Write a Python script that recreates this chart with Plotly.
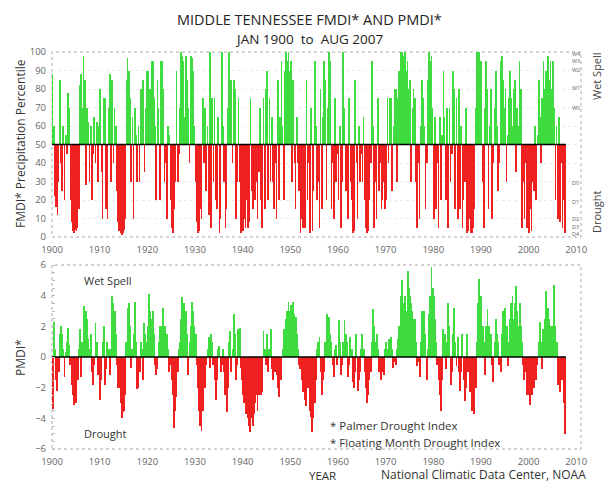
import plotly.graph_objects as go

# ---------------- DATA (quarterly estimates, Q1..Q4 per year) ----------------
# FMDI* precipitation percentile (0-100, 50 = normal)
fmdi_1900s = [88, 60, 22, 16,  12, 30, 85, 40,  25, 60, 20, 55,  45, 78, 70, 20,  8, 3, 2, 4,
              3, 5, 15, 82,  88, 70, 98, 85,  28, 70, 62, 30,  60, 20, 45, 65,  40, 62, 30, 60]
fmdi_1910s = [80, 35, 10, 75,  75, 15, 10, 70,  88, 30, 85, 40,  70, 60, 25, 8,  3, 2, 1, 2,
              4, 10, 85, 97,  90, 75, 30, 65,  10, 70, 55, 30,  60, 30, 80, 75,  85, 35, 70, 90]
fmdi_1920s = [90, 65, 80, 95,  95, 75, 60, 20,  85, 70, 20, 95,  95, 80, 30, 40,  10, 60, 55, 20,
              5, 2, 15, 30,  90, 30, 45, 70,  100, 98, 95, 65,  98, 85, 70, 40,  98, 97, 90, 60]
fmdi_1930s = [30, 8, 2, 3,  15, 10, 75, 40,  70, 25, 60, 12,  100, 5, 75, 30,  75, 20, 15, 65,
              2, 10, 100, 60,  30, 5, 15, 70,  100, 80, 85, 40,  85, 80, 10, 30,  75, 30, 2, 5]
fmdi_1940s = [3, 10, 5, 20,  5, 8, 75, 25,  15, 25, 20, 30,  10, 35, 70, 20,  5, 75, 15, 80,
              90, 20, 75, 30,  65, 30, 15, 40,  10, 85, 20, 65,  95, 60, 20, 90,  100, 95, 100, 90]
fmdi_1950s = [95, 30, 85, 40,  15, 65, 40, 25,  2, 10, 5, 35,  5, 85, 20, 40,  2, 70, 3, 25,
              95, 60, 20, 30,  5, 80, 15, 65,  95, 85, 20, 70,  100, 95, 15, 40,  10, 75, 30, 45]
fmdi_1960s = [20, 60, 5, 30,  100, 70, 25, 40,  10, 75, 30, 20,  2, 3, 85, 40,  10, 60, 30, 45,
              30, 65, 20, 5,  2, 3, 20, 40,  95, 60, 5, 30,  10, 75, 25, 40,  15, 20, 30, 15]
fmdi_1970s = [20, 75, 40, 75,  75, 25, 60, 80,  80, 30, 75, 90,  100, 100, 95, 98,  100, 90, 95, 80,
              85, 30, 70, 80,  75, 30, 5, 40,  10, 60, 85, 75,  60, 15, 40, 85,  100, 95, 98, 70]
fmdi_1980s = [10, 65, 15, 40,  5, 65, 20, 55,  90, 65, 20, 70,  5, 70, 30, 45,  90, 80, 15, 75,
              10, 80, 15, 60,  5, 20, 30, 70,  2, 3, 10, 2,  2, 5, 15, 70,  100, 98, 100, 95]
fmdi_1990s = [95, 30, 5, 70,  95, 80, 15, 60,  80, 10, 40, 70,  90, 60, 25, 40,  95, 98, 85, 70,
              80, 30, 55, 75,  90, 75, 60, 80,  85, 35, 70, 60,  95, 80, 5, 30,  10, 40, 5, 15]
fmdi_2000s = [2, 15, 3, 30,  25, 60, 20, 55,  85, 65, 40, 75,  95, 80, 90, 75,  98, 85, 95, 80,
              95, 70, 20, 60,  10, 65, 8, 40,  5, 20, 2]

# PMDI* (Palmer drought index)
pmdi_1900s = [-3.4, 2.3, 0.5, -1.5,  -2.2, -1.0, 1.5, 2.0,  1.5, 0.5, -1.3, 0.3,  1.0, 1.9, 0.8, -0.5,
              -1.8, -2.5, -3.1, -2.5,  -3.0, -1.5, 0.5, 1.8,  -1.3, 1.0, 3.3, 2.8,  3.0, 2.5, 1.2, 0.5,
              1.5, -1.0, -1.8, -0.5,  2.2, 1.0, -1.2, -0.5]
pmdi_1910s = [-2.8, -1.5, 1.0, 2.0,  -1.8, -0.8, 1.0, 0.5,  -1.2, 0.5, 4.0, 3.5,  3.0, 1.5, -0.5, -2.0,
              -2.0, -3.0, -4.0, -3.6,  -3.5, -2.5, 1.0, 3.2,  3.5, 2.0, -0.7, 0.5,  1.5, 3.6, 1.0, -2.1,
              -2.0, -1.0, 1.0, 0.5,  -1.5, 2.2, 1.5, 1.0]
pmdi_1920s = [2.0, 4.1, 3.0, 2.5,  3.0, 1.5, -0.5, -1.2,  -0.8, 1.0, 2.0, 1.0,  2.0, 3.2, 2.0, 1.0,
              1.5, 0.5, -1.0, -0.5,  -1.5, -2.5, -4.6, -3.5,  -2.6, -1.0, 0.5, 1.0,  2.5, 3.9, 3.5, 2.5,
              3.0, 1.5, -1.2, 1.0,  2.0, 3.6, 3.0, 2.0]
pmdi_1930s = [1.5, -0.5, -2.0, -3.5,  -4.5, -4.8, -3.5, -2.0,  -2.0, -0.5, 0.5, 1.3,  -0.7, 1.5, 1.0, -0.5,
              -1.5, -2.8, -1.5, 0.5,  0.7, -1.0, -0.5, 0.5,  -1.0, -2.5, -3.6, -2.0,  1.0, 1.7, -1.0, 0.5,
              2.8, 1.5, -1.5, -0.5,  1.8, 1.9, -0.7, -1.5]
pmdi_1940s = [-2.5, -3.0, -3.7, -3.5,  -4.0, -4.5, -4.9, -4.0,  -4.5, -3.7, -3.0, -2.5,  -3.5, -2.5, -2.0, -2.5,
              -2.3, 1.7, 0.5, -0.5,  1.5, -1.0, 0.5, 1.8,  -0.8, -1.5, -0.5, -1.0,  -1.2, -2.0, -2.6, -1.5,
              -1.5, 0.5, 1.8, 1.5,  2.5, 3.0, 3.6, 3.0]
pmdi_1950s = [3.4, 2.5, 3.6, 2.8,  2.6, 1.5, 0.5, -0.5,  -0.8, -1.5, -2.3, -2.0,  -2.8, -3.2, -2.0, -1.5,
              -3.5, -3.9, -4.9, -4.0,  -3.0, -1.5, 0.5, 1.0,  1.3, -1.0, -2.5, -1.5,  -1.0, 1.0, 2.8, 2.0,
              2.6, 1.5, 1.0, -0.5,  -1.3, 0.5, 0.8, -0.5]
pmdi_1960s = [2.4, 1.0, -1.2, -0.5,  1.0, 2.4, 1.5, 1.0,  -1.3, -0.5, 1.3, 0.5,  -1.6, -2.0, -1.0, 1.5,
              -2.2, -1.5, -1.0, 0.5,  1.5, 0.5, -1.0, -2.0,  -3.0, -2.5, -1.5, -1.0,  1.0, 3.1, 2.0, 1.0,
              1.5, 0.5, -1.0, -0.5,  -1.5, -1.0, -1.2, 0.5]
pmdi_1970s = [1.0, 0.5, 1.2, 0.8,  1.3, 0.5, -0.7, -0.3,  -0.5, 0.5, 1.2, 2.0,  4.0, 5.0, 3.5, 3.0,
              4.0, 3.0, 5.6, 4.5,  4.0, 3.5, 3.0, 2.5,  2.5, 1.0, -0.6, -0.3,  -1.3, 1.0, 3.0, 2.5,
              3.0, 1.5, -1.5, 0.5,  2.8, 4.0, 5.9, 4.5]
pmdi_1980s = [4.0, 2.5, 1.0, -0.5,  -1.5, -2.5, -3.5, -1.5,  1.8, 1.5, -0.8, 1.0,  3.5, 2.0, -1.8, -1.0,
              1.5, 3.2, 1.0, -0.6,  1.3, -1.0, -2.2, -1.0,  1.5, -1.5, -2.9, -2.0,  1.5, -1.0, -2.3, -1.5,
              -3.5, -3.0, -3.7, -2.0,  1.0, 3.5, 5.1, 4.0]
pmdi_1990s = [4.0, 2.0, 1.0, -1.2,  2.0, 3.1, 2.0, 1.0,  1.5, -0.5, -1.6, 1.0,  2.5, 1.5, 1.0, -0.5,
              -1.0, 1.5, 3.0, 2.5,  3.2, 2.0, -0.6, 1.0,  2.5, 3.5, 4.0, 2.5,  3.5, 4.6, 3.0, 2.0,
              3.5, 2.0, 1.0, -0.5,  -1.5, -1.0, -2.5, -2.0]
pmdi_2000s = [-2.5, -3.1, -2.5, -1.5,  -2.0, -1.0, -1.5, -0.5,  1.0, 2.3, 1.0, -0.8,  1.8, 2.5, 4.3, 3.0,
              3.2, 2.5, 2.0, 1.5,  2.0, 4.7, 2.0, 1.0,  -1.8, -1.0, -2.3, -1.5,  -1.5, -3.0, -5.0]

x_ticks = [1900, 1910, 1920, 1930, 1940, 1950, 1960, 1970, 1980, 1990, 2000, 2010]
fmdi_ticks = [0, 10, 20, 30, 40, 50, 60, 70, 80, 90, 100]
pmdi_ticks = [-6, -4, -2, 0, 2, 4, 6]
class_labels = ["W4", "W3", "W2", "W1", "W0", "D0", "D1", "D2", "D3", "D4"]
class_levels = [99, 95, 90.5, 80.8, 70, 29, 19, 9.5, 5.5, 1.5]

fmdi = (fmdi_1900s + fmdi_1910s + fmdi_1920s + fmdi_1930s + fmdi_1940s +
        fmdi_1950s + fmdi_1960s + fmdi_1970s + fmdi_1980s + fmdi_1990s + fmdi_2000s)
pmdi = (pmdi_1900s + pmdi_1910s + pmdi_1920s + pmdi_1930s + pmdi_1940s +
        pmdi_1950s + pmdi_1960s + pmdi_1970s + pmdi_1980s + pmdi_1990s + pmdi_2000s)

t_f = [1900 + i // 4 + (i % 4 + 0.5) / 4 for i in range(len(fmdi))]
t_p = [1900 + i // 4 + (i % 4 + 0.5) / 4 for i in range(len(pmdi))]

GREEN = "#3FDC3F"
RED = "#EE2020"
FONT = "Open Sans"
W, H = 614, 483
OFF = 8  # page body margin


def px(sx):
    return (sx - OFF) / W


def py(sy):
    return 1 - (sy - OFF) / H


fig = go.Figure()
fig.add_trace(go.Bar(
    x=t_f, y=[v - 50 for v in fmdi], base=50, width=0.14,
    marker=dict(color=[GREEN if v >= 50 else RED for v in fmdi], line=dict(width=0)),
    xaxis="x", yaxis="y", showlegend=False))
fig.add_trace(go.Bar(
    x=t_p, y=pmdi, base=0, width=0.2,
    marker=dict(color=[GREEN if v >= 0 else RED for v in pmdi], line=dict(width=0)),
    xaxis="x2", yaxis="y2", showlegend=False))

end_t = 1900 + len(fmdi) / 4 + 1 / 12
fig.add_trace(go.Scatter(x=[1900, end_t], y=[50, 50], mode="lines",
                         line=dict(color="black", width=1.5), xaxis="x", yaxis="y",
                         showlegend=False, hoverinfo="skip"))
fig.add_trace(go.Scatter(x=[1900, end_t], y=[0, 0], mode="lines",
                         line=dict(color="black", width=1.5), xaxis="x2", yaxis="y2",
                         showlegend=False, hoverinfo="skip"))

XD = [px(52), px(581)]
tickfont = dict(family=FONT, size=9.5, color="#666")
common_x = dict(domain=XD, range=[1900, 2011], tickvals=x_ticks, showgrid=False,
                zeroline=False, showline=False, ticks="", tickfont=tickfont,
                ticklabelstandoff=5)
fig.update_layout(
    width=W, height=H,
    margin=dict(l=0, r=0, t=0, b=0, autoexpand=False),
    paper_bgcolor="white", plot_bgcolor="white",
    bargap=0, barmode="overlay",
    font=dict(family=FONT, color="#333"),
    xaxis=dict(anchor="y", **common_x),
    yaxis=dict(domain=[py(237), py(52)], range=[0, 100], tickvals=fmdi_ticks,
               showgrid=True, gridcolor="#ececec", griddash="dot", zeroline=False,
               showline=False, ticks="", tickfont=tickfont, anchor="x",
               ticklabelstandoff=5),
    xaxis2=dict(anchor="y2", **common_x),
    yaxis2=dict(domain=[py(449), py(265)], range=[-6, 6], tickvals=pmdi_ticks,
                showgrid=False, zeroline=False, showline=False, ticks="",
                tickfont=tickfont, anchor="x2", ticklabelstandoff=5,
                minor=dict(dtick=0.5, ticks="inside", ticklen=3, tickcolor="#bbb")),
)

# dotted frames
for xr, yr in [("x", "y"), ("x2", "y2")]:
    fig.add_shape(type="rect", xref=xr + " domain", yref=yr + " domain",
                  x0=0, x1=1, y0=0, y1=1, line=dict(color="#aaa", width=1, dash="dot"),
                  layer="below")

ann = []
ann.append(dict(text="MIDDLE TENNESSEE FMDI* AND PMDI*", x=309, y=8, yanchor="top", font=dict(size=14.5, color="#222")))
ann.append(dict(text="JAN 1900  to  AUG 2007", x=309, y=39, font=dict(size=13.5, color="#222")))
ann.append(dict(text="FMDI* Precipitation Percentile", x=20, y=144, textangle=-90, font=dict(size=12, color="#333")))
ann.append(dict(text="PMDI*", x=20, y=357, textangle=-90, font=dict(size=12, color="#333")))
ann.append(dict(text="Wet Spell", x=596, y=76, textangle=-90, font=dict(size=11, color="#444")))
ann.append(dict(text="Drought", x=596, y=212, textangle=-90, font=dict(size=11, color="#444")))
ann.append(dict(text="Wet Spell", x=108, y=280, font=dict(size=11, color="#333")))
ann.append(dict(text="Drought", x=106, y=433, font=dict(size=11, color="#333")))
ann.append(dict(text="* Palmer Drought Index", x=328, y=425.5, xanchor="left", font=dict(size=11.5, color="#333")))
ann.append(dict(text="* Floating Month Drought Index", x=328, y=442.5, xanchor="left", font=dict(size=11.5, color="#333")))
ann.append(dict(text="YEAR", x=322, y=475, font=dict(size=11.5, color="#333")))
ann.append(dict(text="National Climatic Data Center, NOAA", x=588, y=474, xanchor="right", font=dict(size=12, color="#333")))

annotations = []
for a in ann:
    d = dict(xref="paper", yref="paper", showarrow=False,
             x=px(a["x"]), y=py(a["y"]),
             xanchor=a.get("xanchor", "center"), yanchor=a.get("yanchor", "middle"),
             text=a["text"], textangle=a.get("textangle", 0))
    f = dict(family=FONT)
    f.update(a["font"])
    d["font"] = f
    annotations.append(d)

for lab, lev in zip(class_labels, class_levels):
    annotations.append(dict(xref="x", yref="y", x=2008.8, y=lev, text=lab, showarrow=False,
                            xanchor="left", yanchor="middle", borderpad=0,
                            font=dict(family=FONT, size=5.5, color="#666")))

fig.update_layout(annotations=annotations)
fig.write_html("out.html")
